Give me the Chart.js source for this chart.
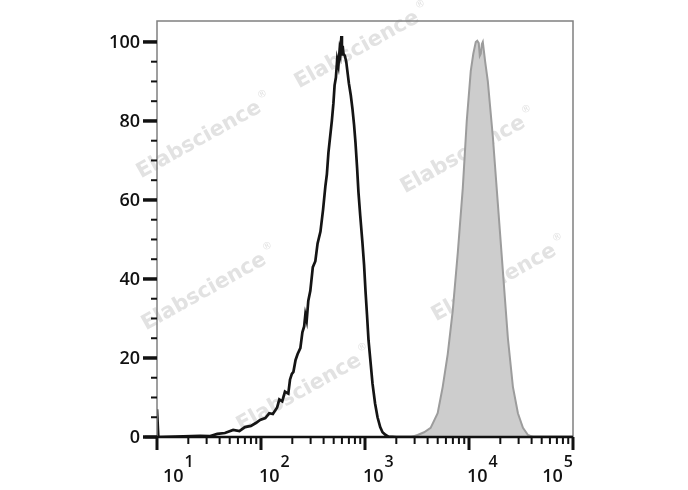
<!DOCTYPE html>
<html>
<head>
<meta charset="utf-8">
<script src="https://cdn.jsdelivr.net/npm/chart.js@4.4.0/dist/chart.umd.min.js"></script>
<style>
  html, body { margin: 0; padding: 0; background: #fff; }
  #wrap { width: 688px; height: 490px; position: relative; }
</style>
</head>
<body>
<div id="wrap"><canvas id="histChart"></canvas></div>
<script>
// Axis ticks
const yTicks = [0, 20, 40, 60, 80, 100];
const yMinorTicks = [5, 10, 15, 25, 30, 35, 45, 50, 55, 65, 70, 75, 85, 90, 95];
const xDecades = [1, 2, 3, 4, 5];

// Unstained / control histogram (black outline)
const blackX = [10, 10.3, 26, 32, 38, 45, 54, 62, 70, 80, 90, 98, 110, 120, 130, 143, 150, 160, 170, 183, 190, 198,
    205, 215, 225, 239, 250, 260, 267, 275, 285, 298, 315, 333, 350, 373, 395, 416, 430, 445, 460, 480, 497, 510,
    525, 540, 555, 570, 580, 593, 600, 610, 621, 640, 660, 678, 700, 730, 758, 785, 810, 840, 865, 900, 946, 980,
    1011, 1045, 1081, 1130, 1181, 1250, 1320, 1400, 1474, 1580, 1684, 2000, 100000];
const blackY = [7, 0, 0.3, 0.2, 0.8, 1.0, 1.8, 1.5, 2.5, 2.8, 3.6, 4.3, 4.8, 6.0, 5.8, 7.5, 9.5, 9.0, 11.5, 11.0, 14.5, 16.0,
    16.5, 19.5, 21.0, 22.5, 26.5, 28.0, 31.0, 29.5, 34.5, 37.0, 43.0, 44.5, 49.0, 52.0, 57.5, 63.5, 66.5, 72.0, 75.5, 80.0, 84.5, 89.0,
    91.0, 95.5, 94.0, 98.0, 97.0, 101.5, 96.5, 99.0, 97.0, 96.5, 95.0, 92.5, 89.5, 86.5, 83.0, 79.0, 74.5, 68.0, 62.0, 56.0, 49.0, 43.5,
    37.0, 31.0, 24.5, 19.0, 13.5, 8.5, 5.0, 2.5, 1.2, 0.5, 0.1, 0, 0];

// Stained histogram (grey filled)
const grayX = [10, 2800, 3206, 3700, 4276, 4996, 5587, 6244, 6977, 7798, 8714, 9513, 10394, 11000, 11616, 12000, 12411,
    12700, 12981, 13300, 13574, 14300, 15170, 16952, 18944, 21170, 23657, 26437, 29543, 33013, 36892, 41227, 100000];
const grayY = [0, 0, 0.5, 1.2, 2.3, 6, 12.7, 21, 32, 46.6, 63, 80, 92.6, 97, 100, 100.3, 99.7,
    96.5, 97, 99.5, 100, 95, 90, 76, 59, 42, 25, 12.7, 6, 2.3, 0.5, 0, 0];

function toPoints(xs, ys) {
    return xs.map(function(x, i) { return { x: x, y: ys[i] }; });
}

// Watermarks, axes, ticks and labels drawn by hand around the chart area
const frameBehind = {
    id: 'frameBehind',
    beforeDatasetsDraw: function(chart) {
        const ctx = chart.ctx;
        const marks = [[357, 50], [199, 140], [463, 155], [204, 292], [494, 283], [299, 393]];
        ctx.save();
        ctx.fillStyle = '#e2e2e2';
        ctx.textBaseline = 'middle';
        marks.forEach(function(m) {
            ctx.save();
            ctx.translate(m[0], m[1]);
            ctx.rotate(-29 * Math.PI / 180);
            ctx.font = 'bold 21px "DejaVu Sans"';
            ctx.textAlign = 'center';
            ctx.fillText('Elabscience', 0, 0);
            const w = ctx.measureText('Elabscience').width;
            ctx.font = '10px "DejaVu Sans"';
            ctx.textAlign = 'left';
            ctx.fillText('®', w / 2 + 3, -9);
            ctx.restore();
        });
        ctx.restore();
    },
    afterDraw: function(chart) {
        const ctx = chart.ctx;
        const xs = chart.scales.x;
        const ys = chart.scales.y;
        const a = chart.chartArea;
        ctx.save();
        // frame
        ctx.strokeStyle = '#808080';
        ctx.lineWidth = 1.5;
        ctx.beginPath();
        ctx.moveTo(a.left, a.bottom);
        ctx.lineTo(a.left, a.top);
        ctx.lineTo(a.right, a.top);
        ctx.lineTo(a.right, a.bottom);
        ctx.stroke();
        // x axis line
        ctx.strokeStyle = '#111';
        ctx.lineWidth = 2.5;
        ctx.beginPath();
        ctx.moveTo(a.left - 12, a.bottom);
        ctx.lineTo(a.right, a.bottom);
        ctx.stroke();

        // y ticks
        ctx.fillStyle = '#111';
        ctx.lineCap = 'butt';
        yMinorTicks.forEach(function(v) {
            const y = ys.getPixelForValue(v);
            ctx.lineWidth = 2;
            ctx.beginPath();
            ctx.moveTo(a.left - 6, y);
            ctx.lineTo(a.left, y);
            ctx.stroke();
        });
        ctx.font = '600 18px "Open Sans"';
        ctx.textAlign = 'right';
        ctx.textBaseline = 'middle';
        yTicks.forEach(function(v) {
            const y = ys.getPixelForValue(v);
            ctx.lineWidth = 3.5;
            ctx.beginPath();
            ctx.moveTo(a.left - 14, y);
            ctx.lineTo(a.left, y);
            ctx.stroke();
            ctx.fillText(String(v), a.left - 17, y + 1);
        });

        // x ticks
        for (let k = 1; k < 5; k++) {
            for (let m = 2; m <= 9; m++) {
                const x = xs.getPixelForValue(m * Math.pow(10, k));
                ctx.lineWidth = 2;
                ctx.beginPath();
                ctx.moveTo(x, a.bottom);
                ctx.lineTo(x, a.bottom + 7);
                ctx.stroke();
            }
        }
        xDecades.forEach(function(d) {
            const x = xs.getPixelForValue(Math.pow(10, d));
            ctx.lineWidth = 3;
            ctx.beginPath();
            ctx.moveTo(x, a.bottom);
            ctx.lineTo(x, a.bottom + 13);
            ctx.stroke();

            ctx.textAlign = 'left';
            ctx.textBaseline = 'alphabetic';
            ctx.font = '600 18px "Open Sans"';
            const wBase = ctx.measureText('10').width;
            ctx.font = '600 16px "Open Sans"';
            const wSup = ctx.measureText(String(d)).width;
            let left = x - 2;
            left = Math.max(left, a.left + 6);
            left = Math.min(left, a.right - wBase - wSup - 1);
            ctx.font = '600 18px "Open Sans"';
            ctx.fillText('10', left, a.bottom + 45);
            ctx.font = '600 16px "Open Sans"';
            ctx.fillText(String(d), left + wBase + 1, a.bottom + 30);
        });
        ctx.restore();
    }
};

const ctx = document.getElementById('histChart').getContext('2d');
const histChart = new Chart(ctx, {
    type: 'line',
    data: {
        datasets: [{
            label: 'Stained',
            data: toPoints(grayX, grayY),
            borderColor: '#9c9c9c',
            backgroundColor: '#cdcdcd',
            borderWidth: 2,
            fill: 'origin',
            pointRadius: 0,
            tension: 0
        }, {
            label: 'Control',
            data: toPoints(blackX, blackY),
            borderColor: '#141414',
            borderWidth: 2.7,
            fill: false,
            pointRadius: 0,
            tension: 0
        }]
    },
    options: {
        responsive: true,
        maintainAspectRatio: false,
        animation: false,
        layout: {
            padding: { left: 157, right: 115, top: 21, bottom: 53 }
        },
        plugins: {
            legend: { display: false },
            tooltip: { enabled: false }
        },
        scales: {
            x: {
                type: 'logarithmic',
                min: 10,
                max: 100000,
                display: false
            },
            y: {
                min: 0,
                max: 105.3,
                display: false
            }
        }
    },
    plugins: [frameBehind]
});
</script>
</body>
</html>
